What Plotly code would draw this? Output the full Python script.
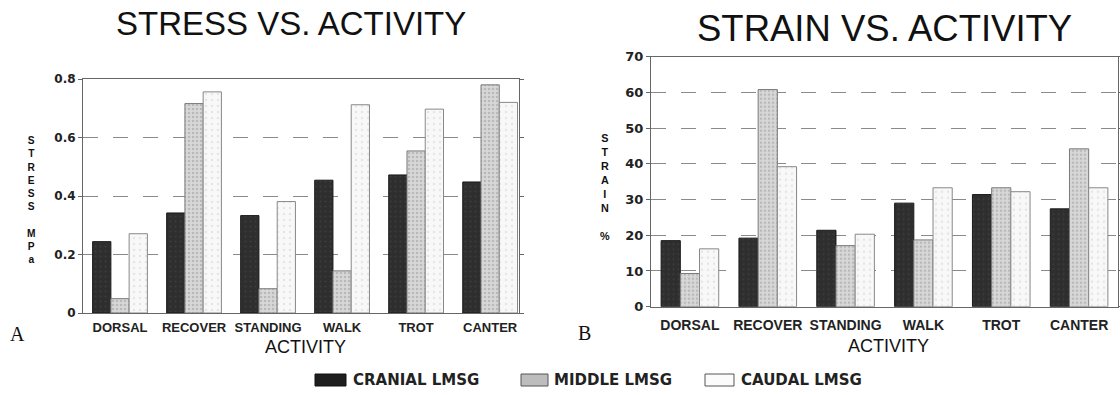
import plotly.graph_objects as go

# ---------------- data ----------------
activities = ["DORSAL", "RECOVER", "STANDING", "WALK", "TROT", "CANTER"]
series_names = ["CRANIAL LMSG", "MIDDLE LMSG", "CAUDAL LMSG"]

stress_cranial = [0.244, 0.342, 0.333, 0.454, 0.472, 0.448]
stress_middle = [0.049, 0.716, 0.083, 0.144, 0.554, 0.780]
stress_caudal = [0.271, 0.756, 0.381, 0.712, 0.697, 0.720]

strain_cranial = [18.5, 19.2, 21.4, 29.0, 31.4, 27.4]
strain_middle = [9.3, 60.8, 17.1, 18.7, 33.3, 44.2]
strain_caudal = [16.2, 39.2, 20.3, 33.3, 32.2, 33.3]

stress_ticks = [0, 0.2, 0.4, 0.6, 0.8]
stress_ticktext = ["0", "0.2", "0.4", "0.6", "0.8"]
strain_ticks = [0, 10, 20, 30, 40, 50, 60, 70]
strain_ticktext = ["0", "10", "20", "30", "40", "50", "60", "70"]

W, H = 1120, 395


def px(x):
    return x / W


def py(y):
    return 1 - y / H


styles = [
    dict(color="#2e2e2e", line=dict(color="#1a1a1a", width=1),
         pattern=dict(shape=".", fgcolor="#4a4a4a", bgcolor="#2e2e2e", size=5, solidity=0.15)),
    dict(color="#cfcfcf", line=dict(color="#7a7a7a", width=1),
         pattern=dict(shape=".", fgcolor="#9a9a9a", bgcolor="#d8d8d8", size=4, solidity=0.35)),
    dict(color="#f5f5f5", line=dict(color="#888888", width=1),
         pattern=dict(shape=".", fgcolor="#d2d2d2", bgcolor="#f8f8f8", size=6, solidity=0.12)),
]

fig = go.Figure()

stress_sets = [stress_cranial, stress_middle, stress_caudal]
strain_sets = [strain_cranial, strain_middle, strain_caudal]
for name, vals, st in zip(series_names, stress_sets, styles):
    fig.add_trace(go.Bar(x=activities, y=vals, name=name, marker=st,
                         xaxis="x", yaxis="y", showlegend=False))
for name, vals, st in zip(series_names, strain_sets, styles):
    fig.add_trace(go.Bar(x=activities, y=vals, name=name, marker=st,
                         xaxis="x2", yaxis="y2", showlegend=False))

tickfont_l = dict(family="Liberation Sans, Arial", size=13, color="#222", weight="bold")
tickfont_r = dict(family="Liberation Sans, Arial", size=14, color="#222", weight="bold")
ytickfont_l = dict(family="DejaVu Sans", size=12, color="#222", weight="bold")
ytickfont_r = dict(family="DejaVu Sans", size=13, color="#222", weight="bold")

common_x = dict(type="category", showgrid=False, showline=True, linecolor="#666",
                linewidth=1, mirror=True, ticks="", automargin=False, fixedrange=True)
common_y = dict(showgrid=True, gridcolor="#8a8a8a", gridwidth=1, griddash="longdash",
                showline=True, linecolor="#666", linewidth=1, mirror="ticks",
                ticks="outside", ticklen=4, tickcolor="#666", automargin=False,
                zeroline=False, fixedrange=True)

fig.update_layout(
    width=W, height=H, autosize=False,
    margin=dict(l=0, r=0, t=0, b=0),
    paper_bgcolor="white", plot_bgcolor="white",
    barmode="group",
    xaxis=dict(common_x, domain=[px(83), px(519)], anchor="y",
               range=[-0.5, 5.39], tickfont=tickfont_l, ticklabelstandoff=2),
    yaxis=dict(common_y, domain=[py(313), py(79)], anchor="x",
               range=[0, 0.8], tickvals=stress_ticks, ticktext=stress_ticktext,
               tickfont=ytickfont_l),
    xaxis2=dict(common_x, domain=[px(651), px(1118)], anchor="y2",
                range=[-0.5, 5.5], tickfont=tickfont_r, ticklabelstandoff=5),
    yaxis2=dict(common_y, domain=[py(306.7), py(56.7)], anchor="x2",
                range=[0, 70], tickvals=strain_ticks, ticktext=strain_ticktext,
                tickfont=ytickfont_r),
    bargap=0.26,
    bargroupgap=0,
)

ann = []


def add_text(text, x, y, size, family="Liberation Sans, Arial", weight="normal",
             xanchor="center", yanchor="middle", color="#111"):
    ann.append(dict(text=text, x=px(x), y=py(y), xref="paper", yref="paper",
                    xanchor=xanchor, yanchor=yanchor, showarrow=False,
                    font=dict(family=family, size=size, color=color, weight=weight)))


# titles
add_text("STRESS VS. ACTIVITY", 291, 24, 33)
add_text("STRAIN VS. ACTIVITY", 884, 28, 36.5)
# x axis titles
add_text("ACTIVITY", 305, 347, 18)
add_text("ACTIVITY", 888, 346, 18)
# panel letters
add_text("A", 17, 334, 20, family="Liberation Serif, Times New Roman")
add_text("B", 584, 333, 20, family="Liberation Serif, Times New Roman")

# stacked y titles (one letter per line)
left_label_top = "STRESS"
left_label_bot = "MPa"
right_label_top = "STRAIN"
right_label_bot = "%"
left_stack = "<br>".join(list(left_label_top) + [""] + list(left_label_bot))
right_stack = "<br>".join(list(right_label_top) + [""] + list(right_label_bot))
add_text(left_stack, 31, 133, 10.2, weight="bold", yanchor="top")
add_text(right_stack, 605, 130, 10.8, weight="bold", yanchor="top")

# legend (manual)
legend_swatches = [(315, 346), (521, 548), (705, 734)]
legend_text_x = [351, 552, 739]
shapes = []
swatch_fill = ["#1e1e1e", "#bdbdbd", "#fbfbfb"]
swatch_line = ["#111", "#555", "#555"]
for (x0, x1), tx, name, fc, lc in zip(legend_swatches, legend_text_x, series_names,
                                       swatch_fill, swatch_line):
    shapes.append(dict(type="rect", xref="paper", yref="paper",
                       x0=px(x0), x1=px(x1), y0=py(386), y1=py(374),
                       fillcolor=fc, line=dict(color=lc, width=1)))
    add_text(name, tx, 380, 15, family="DejaVu Sans", weight="bold",
             xanchor="left", color="#222")

fig.update_layout(annotations=ann, shapes=shapes)

fig.write_html("out.html",
               config={"displayModeBar": False, "staticPlot": False},
               post_script="document.body.style.margin='0';document.body.style.padding='0';")
